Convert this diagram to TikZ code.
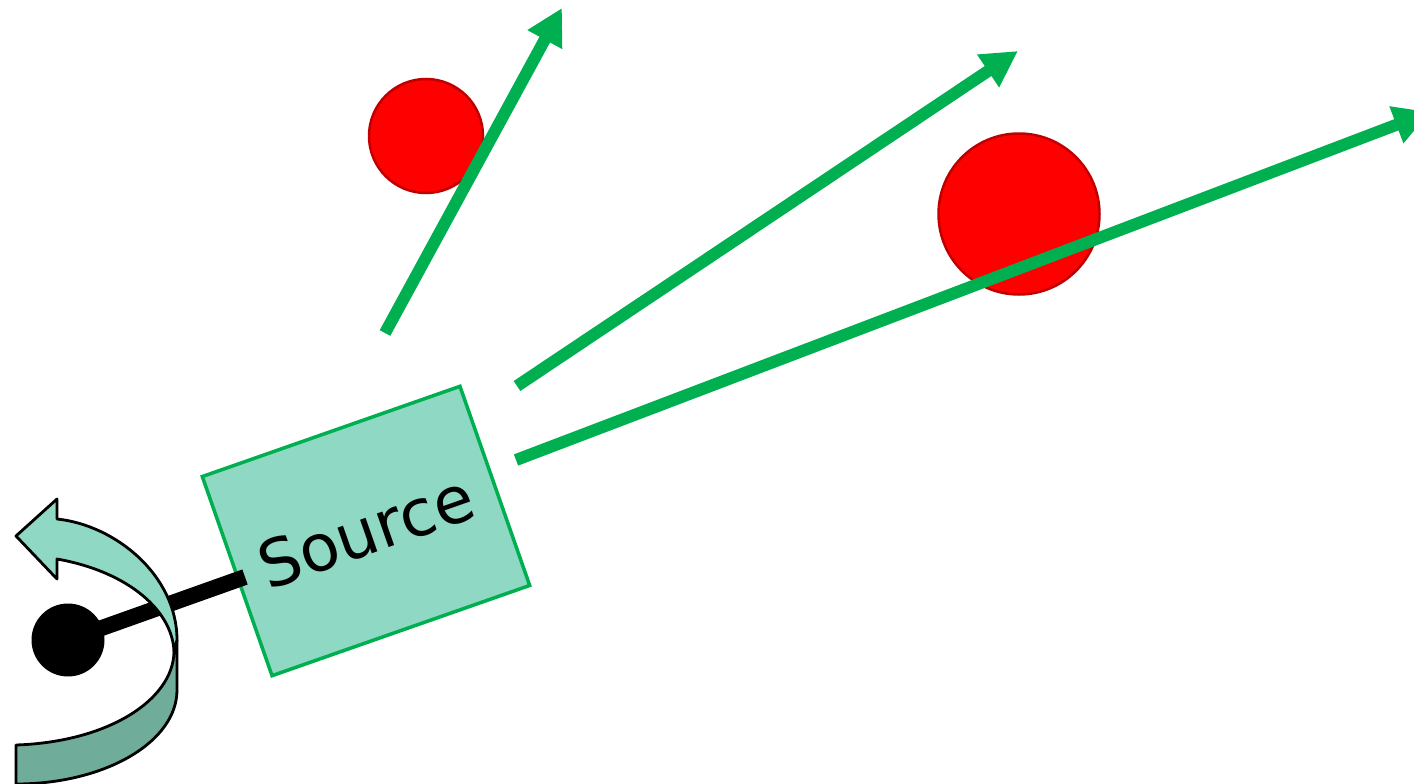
\documentclass[tikz,border=0pt]{standalone}
\usepackage{fontspec}
\newfontfamily\labelfont{DejaVu Sans}
\usetikzlibrary{arrows.meta}
\definecolor{mint}{RGB}{143,216,195}
\definecolor{mintdark}{RGB}{112,172,154}
\definecolor{beamgreen}{RGB}{0,176,80}
\definecolor{ballred}{RGB}{255,0,0}
\definecolor{ballrim}{RGB}{192,0,0}
\begin{document}
\begin{tikzpicture}[x=1pt,y=-1pt,
  beam/.style={draw=beamgreen, line width=12pt, line cap=butt,
    -{Triangle[length=36pt,width=37pt]}},
  ball/.style={circle, fill=ballred, draw=ballrim, line width=2.5pt, inner sep=0pt},
  sourcebox/.style={draw=beamgreen, fill=mint, line width=3.5pt, rotate=19.3,
    minimum width=273pt, minimum height=211pt, inner sep=0pt,
    font=\labelfont\fontsize{65}{65}\selectfont},
  pivotdot/.style={circle, fill=black, minimum size=73pt, inner sep=0pt},
  rod/.style={draw=black, line width=16pt},
  ribbon/.style={draw=black, line width=2.8pt, line join=round},
]
\useasboundingbox (0,0) rectangle (1414,784);

% source block
\node[sourcebox] (src) at (366,531) {\raisebox{-4pt}{Source}};

% pivot and arm
\node[pivotdot] (pivot) at (68,640) {};
\coordinate (armend) at (245,577);
\draw[rod] (pivot.center) -- (armend);

% rotation ribbon: back face, then front face with arrow head
\draw[ribbon, fill=mintdark]
  (177,640) -- (177,690) .. controls (177,742) and (105,784) .. (16,784)
  -- (16,745) .. controls (108,742) and (173,700) .. (174,652) -- cycle;
\draw[ribbon, fill=mint]
  (16,536) -- (57,499) -- (57,519) .. controls (115,525) and (177,575) .. (177,640)
  -- (174,652) .. controls (173,612) and (130,572) .. (57,559)
  -- (57,579) -- cycle;

% obstacles
\node[ball, minimum size=114pt] (ballA) at (426,136) {};
\node[ball, minimum size=161pt] (ballB) at (1019,214) {};

% emitted beams
\coordinate (s1) at (385,333);
\coordinate (t1) at (562,8);
\coordinate (s2) at (517,386);
\coordinate (t2) at (1018,51);
\coordinate (s3) at (516,460);
\coordinate (t3) at (1430,112);
\draw[beam] (s1) -- (t1);
\draw[beam] (s2) -- (t2);
\draw[beam] (s3) -- (t3);
\end{tikzpicture}
\end{document}
